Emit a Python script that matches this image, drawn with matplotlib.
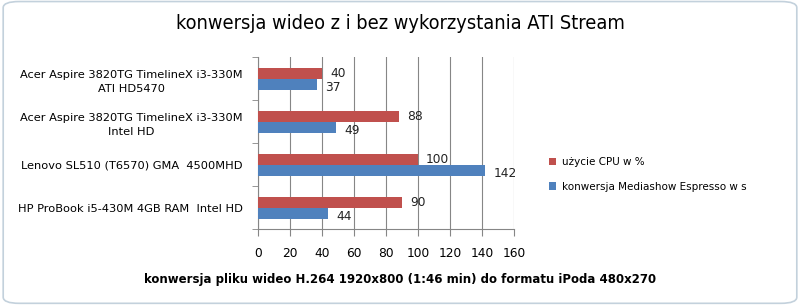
import numpy as np
from matplotlib import pyplot as plt
from matplotlib.patches import FancyBboxPatch

# data
categories = [
    "HP ProBook i5-430M 4GB RAM  Intel HD",
    "Lenovo SL510 (T6570) GMA  4500MHD",
    "Acer Aspire 3820TG TimelineX i3-330M\nIntel HD",
    "Acer Aspire 3820TG TimelineX i3-330M\nATI HD5470",
]
cpu_usage = [90, 100, 88, 40]
conversion_time = [44, 142, 49, 37]
series_names = ["użycie CPU w %", "konwersja Mediashow Espresso w s"]
x_ticks = [0, 20, 40, 60, 80, 100, 120, 140, 160]

red = "#C0504D"
blue = "#4F81BD"
grid_col = "#868686"

plt.rcParams['font.family'] = ['DejaVu Sans']
fig = plt.figure(figsize=(8, 3.07), dpi=100)

# rounded frame around the chart
frame = FancyBboxPatch((0.004, 0.012), 0.992, 0.983, boxstyle="round,pad=0,rounding_size=0.02",
                       transform=fig.transFigure, facecolor="white", edgecolor="#C3D1DC",
                       linewidth=1.2, zorder=-10)
fig.patches.append(frame)

ax = fig.add_axes([0.3225, 0.254, 0.32, 0.56])
y = np.arange(len(categories))
h = 0.256
b_cpu = ax.barh(y + h / 2, cpu_usage, height=h, color=red, label=series_names[0], zorder=3)
b_conv = ax.barh(y - h / 2, conversion_time, height=h, color=blue, label=series_names[1], zorder=3)

# value labels (blue ones sit a little lower, like in excel)
for vals, ypos, dy in ((cpu_usage, y + h / 2, 0), (conversion_time, y - h / 2, -3)):
    for v, yy in zip(vals, ypos):
        ax.annotate(str(v), (v, yy), xytext=(8, dy), textcoords="offset pixels",
                    ha="left", va="center", fontsize=8.8, color="#222222")

ax.set_xlim(0, 160)
ax.set_ylim(-0.5, len(categories) - 0.5)
ax.set_xticks(x_ticks)
ax.set_xticklabels([str(t) for t in x_ticks], fontsize=8.8)
ax.set_yticks(y)
ax.set_yticklabels(categories, fontsize=8.2, multialignment="center", linespacing=1.55)
ax.set_yticks(np.arange(len(categories) + 1) - 0.5, minor=True)
ax.tick_params(axis="y", which="major", length=0, pad=11)
ax.tick_params(axis="y", which="minor", length=4, direction="out", color=grid_col)
ax.tick_params(axis="x", length=5, direction="out", color=grid_col, pad=8)
ax.grid(axis="x", color=grid_col, linewidth=0.8, zorder=0)
for side in ("top", "right"):
    ax.spines[side].set_visible(False)
for side in ("left", "bottom"):
    ax.spines[side].set_color(grid_col)

fig.text(0.5, 0.922, "konwersja wideo z i bez wykorzystania ATI Stream",
         ha="center", va="center", fontsize=14.3, fontstretch="condensed",
         family=["DejaVu Sans"])
fig.text(0.5, 0.09, "konwersja pliku wideo H.264 1920x800 (1:46 min) do formatu iPoda 480x270",
         ha="center", va="center", fontsize=8.45, fontweight="bold")

fig.legend(handles=[b_cpu, b_conv], loc="center left", bbox_to_anchor=(0.674, 0.432),
           frameon=False, fontsize=7.5, handlelength=0.7, handleheight=0.7,
           handletextpad=0.6, labelspacing=1.4)

plt.savefig("out.png", dpi=100)
# plt.show()
